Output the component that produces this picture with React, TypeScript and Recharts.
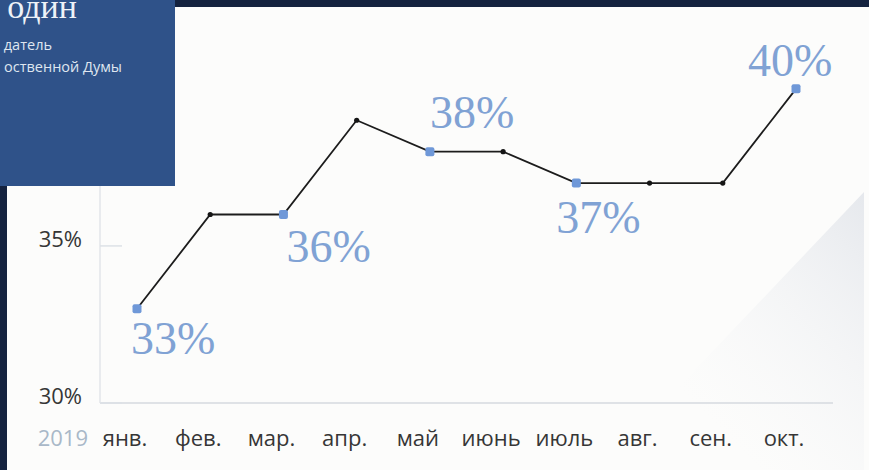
import React from 'react';
import { LineChart, Line, XAxis, YAxis } from 'recharts';

const months = ['янв.', 'фев.', 'мар.', 'апр.', 'май', 'июнь', 'июль', 'авг.', 'сен.', 'окт.'];
const values = [33, 36, 36, 39, 38, 38, 37, 37, 37, 40];
const annotated = [true, false, true, false, true, false, true, false, false, true];
const yTicks = [30, 35];
const boundaryTicks = [0, 1, 2, 3, 4, 5, 6, 7, 8, 9, 10];
const yearLabel = '2019';
const panelTitle = 'один';
const panelLines = ['датель', 'оственной Думы'];

const data = months.map((m, i) => ({ month: m, value: values[i], annotated: annotated[i] }));

const W = 869;
const H = 470;
const SANS = '"Open Sans", "Noto Sans", sans-serif';
const SERIF = '"Liberation Serif", "DejaVu Serif", serif';

const labelOffsets: Record<number, [number, number]> = {
  0: [-6, 45],
  2: [3, 47],
  4: [0, -24],
  6: [-20, 50],
  9: [-48, -13],
};

const YTick = (props: any) => {
  const { x, y, payload } = props;
  return (
    <g>
      <line x1={x + 18} x2={x + 40} y1={y} y2={y} stroke="#dde1e6" strokeWidth={1.5} />
      <text x={x} y={y + 1} textAnchor="end" fontFamily={SANS} fontSize={22} fontWeight={500} fill="#363636">
        {payload.value}%
      </text>
    </g>
  );
};

const XTick = (props: any) => {
  const { x, y, payload, index } = props;
  return (
    <g>
      {index === 0 && (
        <text x={x - 49} y={y} textAnchor="end" fontFamily={SANS} fontSize={22} fill="#a9b8c8">
          {yearLabel}
        </text>
      )}
      <text x={x - 12} y={y} textAnchor="middle" fontFamily={SANS} fontSize={22} fontWeight={500} fill="#363636">
        {payload.value}
      </text>
    </g>
  );
};

const Dot = (props: any) => {
  const { cx, cy, index } = props;
  if (cx == null || cy == null) return null;
  if (annotated[index]) {
    return <rect x={cx - 4.5} y={cy - 4.5} width={9} height={9} rx={2} fill="#6f98d8" />;
  }
  return <circle cx={cx} cy={cy} r={2.6} fill="#151515" />;
};

const ValueLabel = (props: any) => {
  const { x, y, index, value } = props;
  if (!annotated[index]) return null;
  const off = labelOffsets[index] || [0, -20];
  return (
    <text
      x={x + off[0]}
      y={y + off[1]}
      textAnchor="start"
      fontFamily={SERIF}
      fontSize={46}
      fill="#80a2d4"
    >
      {value}%
    </text>
  );
};

export default function App() {
  return (
    <div
      style={{
        position: 'absolute',
        left: 0,
        top: 0,
        width: W,
        height: H,
        background: '#fcfcfb',
        overflow: 'hidden',
      }}
    >
      <svg width={W} height={H} style={{ position: 'absolute', left: 0, top: 0 }}>
        <defs>
          <linearGradient id="shade" x1="1" y1="0" x2="0" y2="1">
            <stop offset="0%" stopColor="#e3e6eb" stopOpacity={0.9} />
            <stop offset="70%" stopColor="#f4f5f7" stopOpacity={0} />
          </linearGradient>
        </defs>
        <polygon points="864,192 864,470 600,470" fill="url(#shade)" />
      </svg>
      <div style={{ position: 'absolute', left: 0, top: 0 }}>
        <LineChart
          width={W}
          height={H}
          data={data}
          margin={{ top: 26, right: 36, bottom: 0, left: 0 }}
        >
          <XAxis
            xAxisId="cat"
            dataKey="month"
            padding={{ left: 37, right: 37 }}
            height={66}
            axisLine={false}
            tickLine={false}
            tickSize={0}
            tickMargin={42}
            interval={0}
            tick={<XTick />}
          />
          <XAxis
            xAxisId="base"
            type="number"
            domain={[0, 10]}
            ticks={boundaryTicks}
            height={1}
            axisLine={{ stroke: '#d6dadf', strokeWidth: 1.5 }}
            tickLine={{ stroke: '#d6dadf', strokeWidth: 1.5 }}
            tickSize={-7}
            tick={false}
            allowDataOverflow
          />
          <YAxis
            domain={[30, 42]}
            ticks={yTicks}
            width={100}
            axisLine={{ stroke: '#e3e6ea', strokeWidth: 1.5 }}
            tickLine={false}
            tickSize={0}
            tickMargin={18}
            tick={<YTick />}
            allowDataOverflow
          />
          <Line
            xAxisId="cat"
            type="linear"
            dataKey="value"
            stroke="#1c1c1c"
            strokeWidth={1.8}
            dot={<Dot />}
            activeDot={false}
            label={<ValueLabel />}
            isAnimationActive={false}
          />
        </LineChart>
      </div>
      <svg width={W} height={H} style={{ position: 'absolute', left: 0, top: 0, pointerEvents: 'none' }}>
        <rect x={175} y={0} width={W - 175} height={7} fill="#14223f" />
        <rect x={0} y={186} width={7} height={H - 186} fill="#14223f" />
        <rect x={0} y={0} width={175} height={186} fill="#2f5289" />
        <text x={77} y={18} textAnchor="end" fontFamily={SERIF} fontSize={34} fill="#eef2f8">
          {panelTitle}
        </text>
        <text x={52} y={50} textAnchor="end" fontFamily={SANS} fontSize={14.5} fill="#dfe6f0">
          {panelLines[0]}
        </text>
        <text x={122} y={72} textAnchor="end" fontFamily={SANS} fontSize={14.5} fill="#dfe6f0">
          {panelLines[1]}
        </text>
      </svg>
    </div>
  );
}
